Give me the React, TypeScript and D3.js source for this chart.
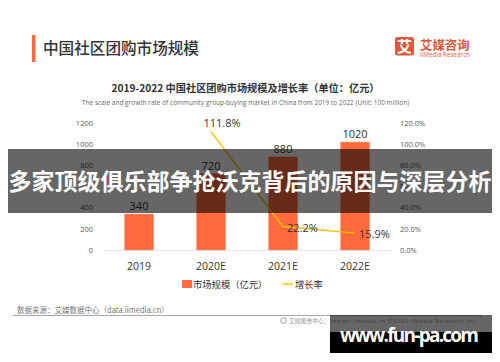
import React from "react";
import * as d3 from "d3";

const categories = ["2019", "2020E", "2021E", "2022E"];
const marketSize = [340, 720, 880, 1020];
const growthRate: (number | null)[] = [null, 111.8, 22.2, 15.9];
const growthLabels = ["", "111.8%", "22.2%", "15.9%"];
const leftTicks = [0, 200, 400, 600, 800, 1000, 1200];
const rightTicks = [0, 20, 40, 60, 80, 100, 120];

const CJK = "'Noto Sans CJK SC', 'Noto Sans', sans-serif";
const LAT = "'Open Sans', 'Noto Sans', sans-serif";

export default function App() {
  const x = d3.scalePoint<string>().domain(categories).range([103, 391]).padding(0.5);
  const yL = d3.scaleLinear().domain([0, 1200]).range([250, 123]);
  const yR = d3.scaleLinear().domain([0, 120]).range([250, 123]);
  const bw = x.step() * 0.4;

  const linePts = categories
    .map((c, i) => ({ c, v: growthRate[i], l: growthLabels[i], i }))
    .filter((d) => d.v !== null) as { c: string; v: number; l: string; i: number }[];
  const line = d3
    .line<{ c: string; v: number }>()
    .x((d) => x(d.c) as number)
    .y((d) => yR(d.v));

  return (
    <svg
      width={500}
      height={362}
      style={{ position: "absolute", left: 0, top: 0, background: "#fff" }}
    >
      <rect x={0} y={0} width={500} height={362} fill="#fff" />
      {/* header */}
      <rect x={32} y={35} width={3.5} height={27} fill="#FF6B3D" />
      <text x={43} y={54} fontFamily={CJK} fontSize={15.6} fontWeight={500} fill="#333">
        中国社区团购市场规模
      </text>
      {/* logo */}
      <rect x={395} y={37} width={19} height={18.5} rx={2.5} fill="#E2573C" />
      <text x={404.5} y={51.5} textAnchor="middle" fontFamily={CJK} fontSize={15} fontWeight={700} fill="#fff">
        艾
      </text>
      <text x={420} y={49.5} fontFamily={CJK} fontSize={12.4} fontWeight={700} fill="#E2573C">
        艾媒咨询
      </text>
      <text x={420} y={56.5} fontFamily={LAT} fontSize={6.2} fill="#E2573C" textLength={50}>
        iiMedia Research
      </text>

      {/* chart titles */}
      <text x={245.5} y={91.5} textAnchor="middle" fontFamily={CJK} fontSize={10.2} fontWeight={700} fill="#333">
        2019-2022 中国社区团购市场规模及增长率（单位：亿元）
      </text>
      <text x={245.5} y={104.5} textAnchor="middle" fontFamily={LAT} fontSize={6.3} fill="#666" textLength={327}>
        The scale and growth rate of community group-buying market in China from 2019 to 2022 (Unit: 100 million)
      </text>

      {/* left axis labels */}
      {leftTicks.map((t) => (
        <text key={"l" + t} x={93} y={yL(t) + 2.8} textAnchor="end" fontFamily={LAT} fontSize={7.5} fill="#595959">
          {t}
        </text>
      ))}
      {rightTicks.map((t) => (
        <text key={"r" + t} x={400} y={yR(t) + 2.8} fontFamily={LAT} fontSize={7.5} fill="#595959">
          {t.toFixed(1) + "%"}
        </text>
      ))}

      {/* axis line */}
      <line x1={103} x2={391} y1={yL(0) + 0.5} y2={yL(0) + 0.5} stroke="#E3E3E3" strokeWidth={1} />

      {/* bars */}
      {categories.map((c, i) => (
        <g key={c}>
          <rect
            x={(x(c) as number) - bw / 2}
            y={yL(marketSize[i])}
            width={bw}
            height={yL(0) - yL(marketSize[i])}
            fill="#FF6B3D"
            stroke="#FF9A78"
            strokeWidth={0.6}
          />
          <text x={x(c) as number} y={yL(marketSize[i]) - 4} textAnchor="middle" fontFamily={LAT} fontSize={11} fill="#333">
            {marketSize[i]}
          </text>
          <text x={x(c) as number} y={270} textAnchor="middle" fontFamily={LAT} fontSize={10.5} fill="#333">
            {c}
          </text>
        </g>
      ))}

      {/* growth line */}
      <path d={line(linePts) || ""} fill="none" stroke="#FFC000" strokeWidth={1.4} />
      {linePts.map((d, k) =>
        k === 0 ? (
          <text key={d.c} x={(x(d.c) as number) + 11} y={yR(d.v) - 4.5} textAnchor="middle" fontFamily={LAT} fontSize={11} fill="#333">
            {d.l}
          </text>
        ) : (
          <text key={d.c} x={(x(d.c) as number) + 4} y={yR(d.v) + 5} fontFamily={LAT} fontSize={11} fill="#333">
            {d.l}
          </text>
        )
      )}

      {/* legend */}
      <rect x={182} y={280} width={10} height={8} fill="#FF6B3D" />
      <text x={193} y={287.5} fontFamily={CJK} fontSize={9.3} fill="#333">
        市场规模（亿元）
      </text>
      <line x1={283} x2={293} y1={284} y2={284} stroke="#FFC000" strokeWidth={1.4} />
      <text x={295} y={287.5} fontFamily={CJK} fontSize={9.3} fill="#333">
        增长率
      </text>

      {/* source & footer */}
      <text x={17} y={313} fontFamily={CJK} fontSize={7.5} fill="#777">
        数据来源：艾媒数据中心（data.iimedia.cn）
      </text>
      <line x1={13} x2={482} y1={315.5} y2={315.5} stroke="#A8A8A8" strokeWidth={1.2} />
      <circle cx={283.5} cy={320.5} r={2.8} fill="none" stroke="#999" strokeWidth={1} />
      <text x={289} y={322.5} fontFamily={CJK} fontSize={5.8} fill="#999">
        艾媒报告中心：
      </text>
      <text x={331} y={322.5} fontFamily={LAT} fontSize={5.8} fill="#999" textLength={144}>
        report.iimedia.cn    ©2020  iiMedia Research  Inc
      </text>

      {/* banner overlay */}
      <rect x={8} y={149} width={484} height={64} fill="rgba(0,0,0,0.6)" />
      <text x={250} y={190} textAnchor="middle" fontFamily={CJK} fontSize={23} fontWeight={700} fill="#fff" textLength={483}>
        多家顶级俱乐部争抢沃克背后的原因与深层分析
      </text>

      {/* watermark */}
      <rect x={330} y={315} width={162} height={17} fill="rgba(0,0,0,0.6)" />
      <rect x={330} y={332} width={162} height={21} fill="#000" />
      <text x={340} y={342} fontFamily={LAT} fontSize={19} fontWeight={700} fill="#fff" textLength={139}>
        www.fun-pa.com
      </text>
    </svg>
  );
}
